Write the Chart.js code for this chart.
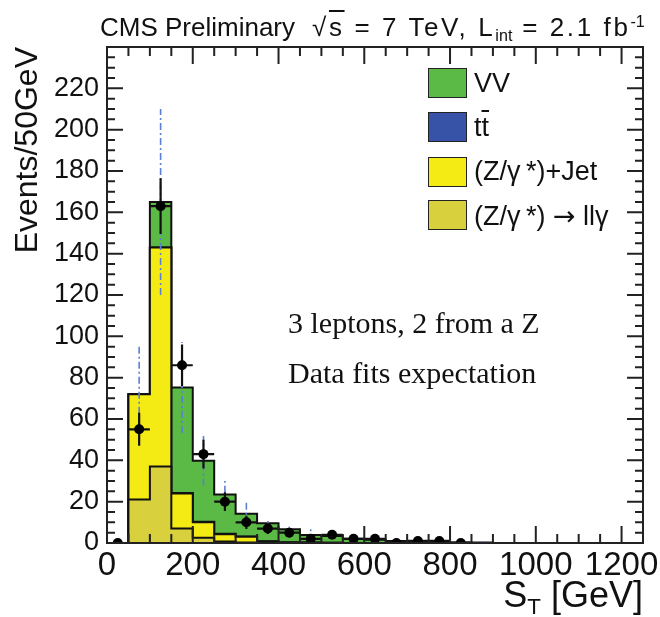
<!DOCTYPE html>
<html>
<head>
<meta charset="utf-8">
<script src="https://cdn.jsdelivr.net/npm/chart.js@4.4.0/dist/chart.umd.min.js"></script>
<style>
  body { margin: 0; background: #fff; }
  #wrap { position: relative; width: 660px; height: 617px; font-family: "Liberation Sans", Arial, sans-serif; color: #111; }
  #c { position: absolute; left: 0; top: 0; }
  .txt { position: absolute; white-space: nowrap; line-height: 1; }
  .serif { font-family: "Liberation Serif", "Times New Roman", serif; }
  .box { position: absolute; width: 37px; height: 28px; border: 1.5px solid #222; }
  .sub { font-size: 0.62em; position: relative; top: 0.32em; letter-spacing: 0; }
  .sup { font-size: 0.62em; position: relative; top: -0.55em; letter-spacing: 0; }
  .ov { text-decoration: overline; }
  .arr { font-family: "DejaVu Sans", sans-serif; }
</style>
</head>
<body>
<div id="wrap">
  <canvas id="c" width="660" height="617"></canvas>

  <div class="txt" style="left:100px; top:14px; font-size:26px;">CMS Preliminary <span style="letter-spacing:2.6px;">&nbsp;√<span class="ov">s</span> = 7 TeV, L<span class="sub">int</span> = 2.1 fb<span class="sup">-1</span></span></div>

  <div class="box" style="left:428px; top:68px; background:#5bba46;"></div>
  <div class="txt" style="left:474px; top:70px; font-size:27px;">VV</div>
  <div class="box" style="left:428px; top:112px; background:#3653a8;"></div>
  <div class="txt" style="left:474px; top:114px; font-size:27px;">t<span class="ov">t</span></div>
  <div class="box" style="left:428px; top:157px; background:#f5eb14;"></div>
  <div class="txt" style="left:474px; top:158px; font-size:27px;">(Z/γ&#8201;*)+Jet</div>
  <div class="box" style="left:428px; top:200px; background:#d8d03c;"></div>
  <div class="txt" style="left:474px; top:202px; font-size:27px;">(Z/γ&#8201;*) <span class="arr">→</span> llγ</div>

  <div class="txt serif" style="left:288px; top:308px; font-size:30px;">3 leptons, 2 from a Z</div>
  <div class="txt serif" style="left:288px; top:358px; font-size:30px;">Data fits expectation</div>

  <div class="txt" style="right:17px; top:577px; font-size:36px;">S<span class="sub">T</span> [GeV]</div>
</div>

<script>
// 50 GeV bins, lower edges
const binLow = [0, 50, 100, 150, 200, 250, 300, 350, 400, 450, 500, 550, 600, 650, 700, 750, 800, 850];
const binWidth = 50;

// stacked backgrounds, bottom to top
const zgammaLLG = [0, 21, 37, 7, 2.5, 0.7, 0.3, 0.1, 0, 0, 0, 0, 0, 0, 0, 0, 0, 0];
const zgammaJet = [0, 51, 106, 17, 7.5, 3.5, 2.7, 0.6, 0.3, 0.2, 0.1, 0, 0, 0, 0, 0, 0, 0];
const ttbar     = [0, 0, 0, 0.2, 0.3, 0.3, 0.2, 0.2, 0.1, 0.1, 0, 0, 0, 0, 0, 0, 0, 0];
const diboson   = [0, 0, 22, 51, 29.5, 19, 11, 8.7, 6.2, 3.6, 3.3, 2, 1.6, 1.0, 0.8, 0.6, 0.4, 0.2];
// uncertainty on the total expectation (blue dash-dot)
const bkgUnc    = [0, 24, 45, 22, 12, 6.5, 5.4, 2.4, 2.1, 3, 1.2, 0.8, 0.7, 0.5, 0.5, 0.4, 0.4, 0.8];

// observed data
const dataX   = [25, 75, 125, 175, 225, 275, 325, 375, 425, 475, 525, 575, 625, 675, 725, 775, 825];
const dataY   = [0, 55, 163, 86, 43, 20, 10, 7, 5, 2, 4, 2, 2, 0, 1, 1, 0];
const dataErr = [0, 8, 13.5, 10, 7, 4.5, 3.2, 2.6, 2.2, 1.4, 2, 1.4, 1.4, 0, 1, 1, 0];

const xTicks = [0, 200, 400, 600, 800, 1000, 1200];
const yTicks = [0, 20, 40, 60, 80, 100, 120, 140, 160, 180, 200, 220];

function stepPoints(values) {
  const pts = binLow.map((x, i) => ({ x: x, y: values[i] }));
  pts.push({ x: binLow[binLow.length - 1] + binWidth, y: 0 });
  return pts;
}

function histo(label, values, color, fill) {
  return {
    type: "line",
    label: label,
    data: stepPoints(values),
    stepped: "before",
    fill: fill,
    backgroundColor: color,
    borderColor: "#111",
    borderWidth: 2,
    pointRadius: 0,
    stack: "bkg"
  };
}

// inner ticks + frame, ROOT style
const frameTicks = {
  id: "frameTicks",
  afterDraw(chart) {
    const { ctx, chartArea: a, scales } = chart;
    ctx.save();
    ctx.strokeStyle = "#222";
    ctx.lineWidth = 2;
    ctx.beginPath();
    for (let v = 0; v <= 1250; v += 50) {
      const px = scales.x.getPixelForValue(v);
      const len = v % 200 === 0 ? 17 : 9;
      ctx.moveTo(px, a.bottom); ctx.lineTo(px, a.bottom - len);
      ctx.moveTo(px, a.top); ctx.lineTo(px, a.top + len);
    }
    for (let v = 0; v <= 240; v += 5) {
      const py = scales.y.getPixelForValue(v);
      const len = v % 20 === 0 ? 16 : 8;
      ctx.moveTo(a.left, py); ctx.lineTo(a.left + len, py);
      ctx.moveTo(a.right, py); ctx.lineTo(a.right - len, py);
    }
    ctx.stroke();
    ctx.strokeRect(a.left, a.top, a.right - a.left, a.bottom - a.top);
    ctx.restore();
  }
};

// blue uncertainty lines and black data error bars, drawn under the data markers
const errorBars = {
  id: "errorBars",
  beforeDatasetDraw(chart, args) {
    if (args.index !== 0) return;
    const { ctx, scales } = chart;
    const x = scales.x, y = scales.y;
    ctx.save();
    ctx.strokeStyle = "#5b7fd6";
    ctx.lineWidth = 1.6;
    ctx.setLineDash([7, 3, 2, 3]);
    binLow.forEach((lo, i) => {
      if (!bkgUnc[i]) return;
      const tot = zgammaLLG[i] + zgammaJet[i] + ttbar[i] + diboson[i];
      const px = x.getPixelForValue(lo + binWidth / 2);
      ctx.beginPath();
      ctx.moveTo(px, y.getPixelForValue(Math.max(0, tot - bkgUnc[i])));
      ctx.lineTo(px, y.getPixelForValue(tot + bkgUnc[i]));
      ctx.stroke();
    });
    ctx.setLineDash([]);
    ctx.strokeStyle = "#111";
    ctx.lineWidth = 2.2;
    dataX.forEach((cx, i) => {
      if (!dataY[i]) return;
      const py = y.getPixelForValue(dataY[i]);
      ctx.beginPath();
      ctx.moveTo(x.getPixelForValue(cx - binWidth / 2), py);
      ctx.lineTo(x.getPixelForValue(cx + binWidth / 2), py);
      ctx.moveTo(x.getPixelForValue(cx), y.getPixelForValue(dataY[i] - dataErr[i]));
      ctx.lineTo(x.getPixelForValue(cx), y.getPixelForValue(dataY[i] + dataErr[i]));
      ctx.stroke();
    });
    ctx.restore();
  }
};

new Chart(document.getElementById("c"), {
  data: {
    datasets: [
      {
        type: "scatter",
        label: "Data",
        data: dataX.map((x, i) => ({ x: x, y: dataY[i] })),
        pointRadius: 5,
        pointBackgroundColor: "#000",
        pointBorderColor: "#000",
        pointBorderWidth: 0,
        stack: "data"
      },
      histo("(Z/γ*) → llγ", zgammaLLG, "#d8d03c", "origin"),
      histo("(Z/γ*)+Jet", zgammaJet, "#f5eb14", "-1"),
      histo("tt̄", ttbar, "#3653a8", "-1"),
      histo("VV", diboson, "#5bba46", "-1")
    ]
  },
  options: {
    responsive: false,
    animation: false,
    events: [],
    layout: { padding: { top: 47, right: 17, left: 0, bottom: 0 } },
    plugins: { legend: { display: false }, tooltip: { enabled: false } },
    scales: {
      x: {
        type: "linear",
        min: 0,
        max: 1250,
        grid: { display: false },
        border: { display: false },
        afterBuildTicks: s => { s.ticks = xTicks.map(v => ({ value: v })); },
        afterFit: s => { s.height = 74; },
        ticks: {
          color: "#111",
          padding: -5,
          maxRotation: 0,
          autoSkip: false,
          callback: v => String(v),
          font: { family: "'Liberation Sans', Arial, sans-serif", size: 33 }
        }
      },
      y: {
        type: "linear",
        min: 0,
        max: 240,
        stacked: true,
        grid: { display: false },
        border: { display: false },
        afterBuildTicks: s => { s.ticks = yTicks.map(v => ({ value: v })); },
        afterFit: s => { s.width = 107; },
        ticks: {
          color: "#111",
          padding: 0,
          callback: v => String(v),
          font: { family: "'Liberation Sans', Arial, sans-serif", size: 27 }
        },
        title: {
          display: true,
          text: "Events/50GeV",
          align: "end",
          color: "#111",
          padding: { top: 9, bottom: 0 },
          font: { family: "'Liberation Sans', Arial, sans-serif", size: 32 }
        }
      }
    }
  },
  plugins: [errorBars, frameTicks]
});
</script>
</body>
</html>
